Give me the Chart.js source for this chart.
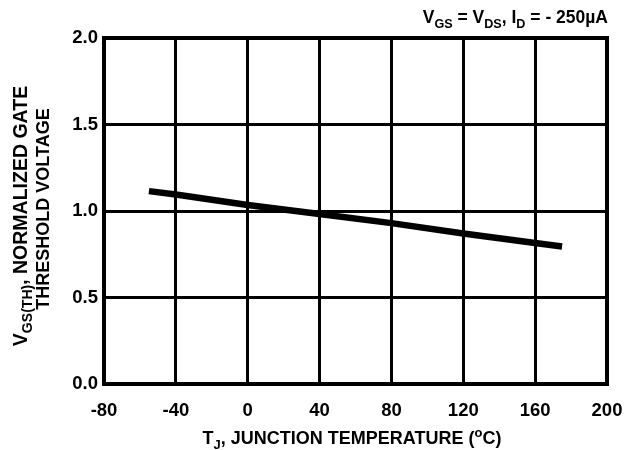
<!DOCTYPE html>
<html><head><meta charset="utf-8">
<script src="https://cdn.jsdelivr.net/npm/chart.js@4"></script>
<style>html,body{margin:0;padding:0;background:#fff}#wrap{width:627px;height:450px}</style>
</head><body><div id="wrap"><canvas id="c" width="627" height="450"></canvas></div>
<script>
const tempC = [-55, -40, 0, 40, 80, 120, 160, 175];
const vthNorm = [1.115, 1.095, 1.035, 0.983, 0.93, 0.87, 0.815, 0.795];
const xTicks = [-80, -40, 0, 40, 80, 120, 160, 200];
const yTicks = [0.0, 0.5, 1.0, 1.5, 2.0];

const FONT = '"Liberation Sans", Arial, sans-serif';
const TS = 18;
function rich(ctx, segs, size) {
  let w = 0;
  for (const s of segs) {
    const fs = s.m ? size * 0.72 : size;
    ctx.font = 'bold ' + fs + 'px ' + FONT;
    s.w = ctx.measureText(s.t).width; s.fs = fs; w += s.w;
  }
  return w;
}
function drawRich(ctx, segs, size, x, y) {
  let cx = x;
  for (const s of segs) {
    ctx.font = 'bold ' + s.fs + 'px ' + FONT;
    let dy = 0;
    if (s.m === 'sub') dy = size * 0.28;
    if (s.m === 'sup') dy = -size * 0.38;
    ctx.fillText(s.t, cx, y + dy);
    cx += s.w;
  }
}
const deco = {
  id: 'deco',
  afterDraw(chart) {
    const ctx = chart.ctx, a = chart.chartArea;
    ctx.save();
    ctx.strokeStyle = '#000'; ctx.lineWidth = 4;
    ctx.strokeRect(a.left, a.top, a.right - a.left, a.bottom - a.top);
    ctx.fillStyle = '#000'; ctx.textBaseline = 'alphabetic'; ctx.textAlign = 'left';
    // top annotation
    const t1 = [{t:'V'},{t:'GS',m:'sub'},{t:' = V'},{t:'DS',m:'sub'},{t:', I'},{t:'D',m:'sub'},{t:' = - 250\u00B5A'}];
    let w = rich(ctx, t1, 17.5);
    drawRich(ctx, t1, 17.5, 608 - w, 23);
    // x title
    const tx = [{t:'T'},{t:'J',m:'sub'},{t:', JUNCTION TEMPERATURE ('},{t:'o',m:'sup'},{t:'C)'}];
    w = rich(ctx, tx, TS);
    drawRich(ctx, tx, TS, 352 - w / 2, 444);
    // y title
    ctx.save();
    ctx.rotate(-Math.PI / 2);
    const ty1 = [{t:'V'},{t:'GS(TH)',m:'sub'},{t:', NORMALIZED GATE'}];
    w = rich(ctx, ty1, 19.5);
    drawRich(ctx, ty1, 19.5, -216 - w / 2, 27);
    const ty2 = [{t:'THRESHOLD VOLTAGE'}];
    w = rich(ctx, ty2, TS);
    drawRich(ctx, ty2, TS, -209 - w / 2, 49);
    ctx.restore();
    ctx.restore();
  }
};
new Chart(document.getElementById('c'), {
  type: 'line',
  data: { datasets: [{ data: tempC.map((t, i) => ({x: t, y: vthNorm[i]})), borderColor: '#000', borderWidth: 6.5, pointRadius: 0, tension: 0, borderCapStyle: 'butt' }] },
  options: {
    responsive: false, animation: false, devicePixelRatio: 1,
    layout: { padding: { top: 38, right: 20, left: 0, bottom: 0 } },
    plugins: { legend: { display: false }, tooltip: { enabled: false } },
    scales: {
      x: {
        type: 'linear', min: -80, max: 200,
        afterBuildTicks: s => { s.ticks = xTicks.map(v => ({value: v})); },
        afterFit: s => { s.height = 66; s.paddingRight = 0; s.paddingLeft = 0; },
        grid: { color: '#000', lineWidth: 3, drawTicks: false },
        border: { display: false },
        ticks: { color: '#000', font: { family: FONT, size: 18.5, weight: 'bold' }, padding: 16, maxRotation: 0, autoSkip: false }
      },
      y: {
        min: 0, max: 2,
        afterBuildTicks: s => { s.ticks = yTicks.map(v => ({value: v})); },
        afterFit: s => { s.width = 104; s.paddingTop = 0; s.paddingBottom = 0; },
        grid: { color: '#000', lineWidth: 3, drawTicks: false },
        border: { display: false },
        ticks: { color: '#000', font: { family: FONT, size: 18.5, weight: 'bold' }, padding: 6, callback: v => v.toFixed(1) }
      }
    }
  },
  plugins: [deco]
});
</script></body></html>
